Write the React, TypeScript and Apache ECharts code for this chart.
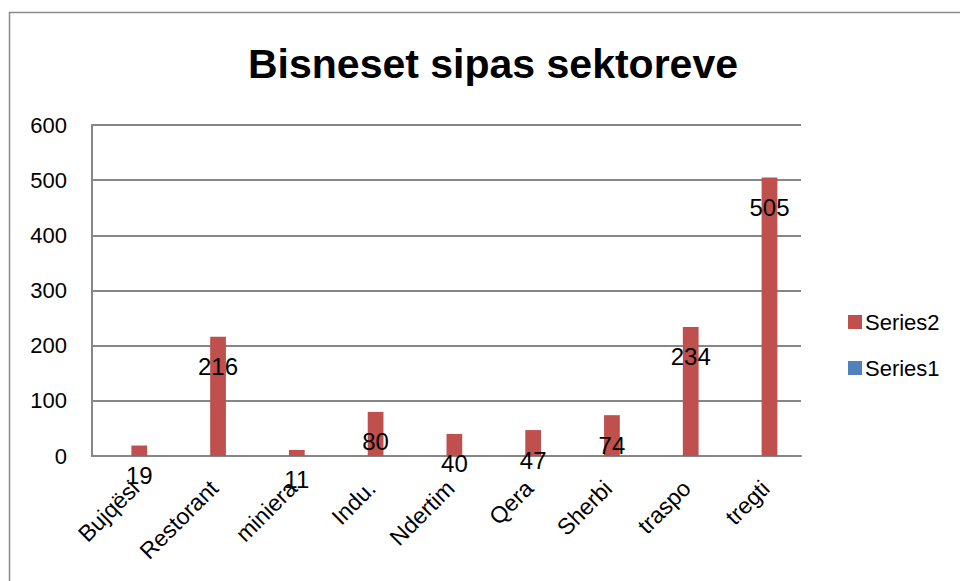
import React, { useEffect, useRef } from "react";
import * as echarts from "echarts";

const categories = ["Bujqësi", "Restorant", "miniera", "Indu.", "Ndertim", "Qera", "Sherbi", "traspo", "tregti"];
const series1Values: (number | null)[] = [null, null, null, null, null, null, null, null, null];
const series2Values = [19, 216, 11, 80, 40, 47, 74, 234, 505];
const legendOrder = ["Series2", "Series1"];

const FONT = "'Liberation Sans', Arial, sans-serif";

export default function App() {
  const ref = useRef<HTMLDivElement>(null);
  useEffect(() => {
    document.body.style.margin = "0";
    const chart = echarts.init(ref.current!, null, { renderer: "svg" });
    chart.setOption({
      animation: false,
      backgroundColor: "#ffffff",
      title: {
        text: "Bisneset sipas sektoreve",
        left: 488,
        top: 38,
        textAlign: "center",
        textStyle: { fontFamily: FONT, fontWeight: "bold", fontSize: 41, color: "#000" },
      },
      graphic: [
        {
          type: "rect",
          shape: { x: 9.5, y: 12.5, width: 1200, height: 1200 },
          style: { fill: "none", stroke: "#8a8a8a", lineWidth: 1.5 },
          silent: true,
        },
      ],
      legend: {
        data: legendOrder,
        orient: "vertical",
        left: 843,
        top: 306,
        itemWidth: 14,
        itemHeight: 14,
        itemGap: 24,
        icon: "rect",
        textStyle: { fontFamily: FONT, fontSize: 22, color: "#000", padding: [0, 0, 0, -2] },
      },
      grid: { left: 92, top: 125, right: 159, bottom: 125, containLabel: false },
      xAxis: {
        type: "category",
        data: categories,
        axisLine: { lineStyle: { color: "#868686", width: 2 } },
        axisTick: { show: false },
        axisLabel: {
          rotate: 45,
          interval: 0,
          margin: 16,
          verticalAlign: "top",
          padding: [0, 6, 0, 0],
          fontFamily: FONT,
          fontSize: 23,
          color: "#000",
        },
      },
      yAxis: {
        type: "value",
        min: 0,
        max: 600,
        interval: 100,
        axisLine: { show: true, lineStyle: { color: "#868686", width: 2 } },
        axisTick: { show: false },
        splitLine: { lineStyle: { color: "#868686", width: 2 } },
        axisLabel: { margin: 25, fontFamily: FONT, fontSize: 22, color: "#000" },
      },
      series: [
        {
          name: "Series1",
          type: "bar",
          data: series1Values,
          barWidth: 15.75,
          barGap: "0%",
          itemStyle: { color: "#4F81BD" },
        },
        {
          name: "Series2",
          type: "bar",
          data: series2Values,
          barWidth: 15.75,
          barGap: "0%",
          itemStyle: { color: "#C0504D" },
          label: {
            show: true,
            position: "insideTop",
            distance: 18,
            fontFamily: FONT,
            fontSize: 24,
            color: "#000",
          },
        },
      ],
    });
    return () => chart.dispose();
  }, []);
  return <div ref={ref} style={{ width: 960, height: 581 }} />;
}
